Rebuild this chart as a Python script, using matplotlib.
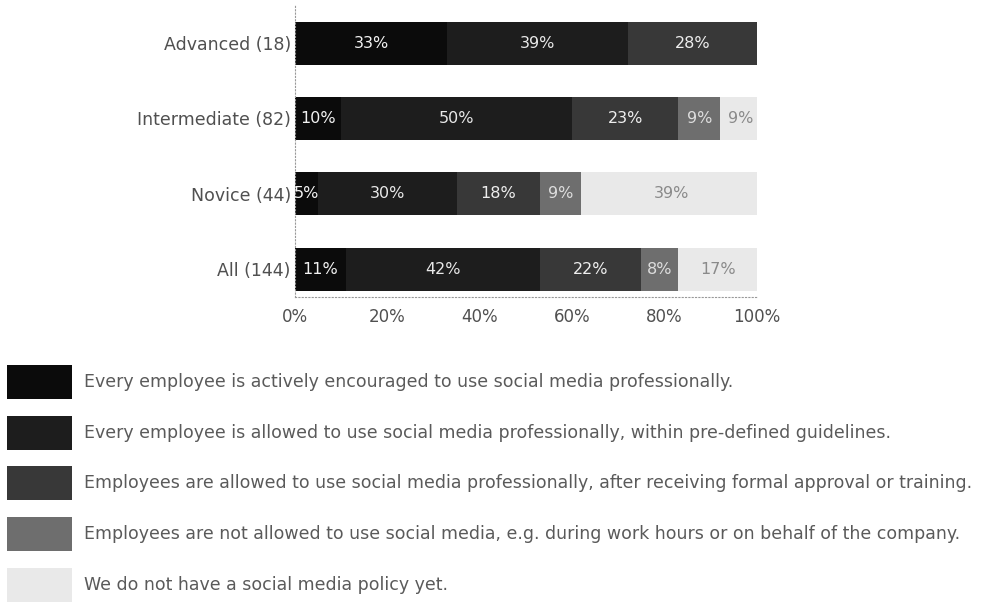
import matplotlib.pyplot as plt
from matplotlib.patches import Rectangle
import numpy as np

plt.rcParams['font.family'] = ['DejaVu Sans']

# data
groups = ['Advanced (18)', 'Intermediate (82)', 'Novice (44)', 'All (144)']
policies = [
    'Every employee is actively encouraged to use social media professionally.',
    'Every employee is allowed to use social media professionally, within pre-defined guidelines.',
    'Employees are allowed to use social media professionally, after receiving formal approval or training.',
    'Employees are not allowed to use social media, e.g. during work hours or on behalf of the company.',
    'We do not have a social media policy yet.',
]
encouraged = [33, 10, 5, 11]
allowed = [39, 50, 30, 42]
approval = [28, 23, 18, 22]
not_allowed = [0, 9, 9, 8]
no_policy = [0, 9, 39, 17]

series = [encouraged, allowed, approval, not_allowed, no_policy]
colors = ['#0b0b0b', '#1d1d1d', '#383838', '#6e6e6e', '#e9e9e9']
text_colors = ['#f2f2f2', '#e8e8e8', '#eeeeee', '#dddddd', '#8a8a8a']

fig = plt.figure(figsize=(9.84, 6.04), dpi=100)
ax = fig.add_axes([0.2998, 0.5083, 0.4695, 0.4834])

y = np.arange(len(groups))[::-1]
left = np.zeros(len(groups))
for vals, c, tc in zip(series, colors, text_colors):
    vals = np.array(vals, dtype=float)
    ax.barh(y, vals, left=left, height=0.57, color=c, edgecolor='none')
    for yi, l, v in zip(y, left, vals):
        if v > 0:
            ax.text(l + v / 2, yi, f'{int(v)}%', ha='center', va='center',
                    fontsize=11.5, color=tc)
    left += vals

ax.set_xlim(0, 100)
ax.set_ylim(-0.37, 3.505)
ax.set_yticks(y)
ax.set_yticklabels(groups, fontsize=12.5, color='#505050')
ax.set_xticks([0, 20, 40, 60, 80, 100])
ax.set_xticklabels(['0%', '20%', '40%', '60%', '80%', '100%'], fontsize=12, color='#505050')
ax.tick_params(axis='both', length=0)
ax.tick_params(axis='y', pad=3)
ax.tick_params(axis='x', pad=8)

for s in ['top', 'right']:
    ax.spines[s].set_visible(False)
for s in ['left', 'bottom']:
    ax.spines[s].set_linestyle((0, (1, 2)))
    ax.spines[s].set_color('#999999')
    ax.spines[s].set_linewidth(0.8)

# legend drawn below the chart
W, H = 984.0, 604.0
centers = [382, 433, 483, 534, 585]
for lab, c, cy in zip(policies, colors, centers):
    fig.add_artist(Rectangle((7 / W, 1 - (cy + 17) / H), 65 / W, 34 / H,
                             transform=fig.transFigure, facecolor=c,
                             edgecolor='none'))
    fig.text(84 / W, 1 - cy / H, lab, ha='left', va='center',
             fontsize=12.5, color='#5a5a5a')

plt.savefig('out.png', dpi=100)
